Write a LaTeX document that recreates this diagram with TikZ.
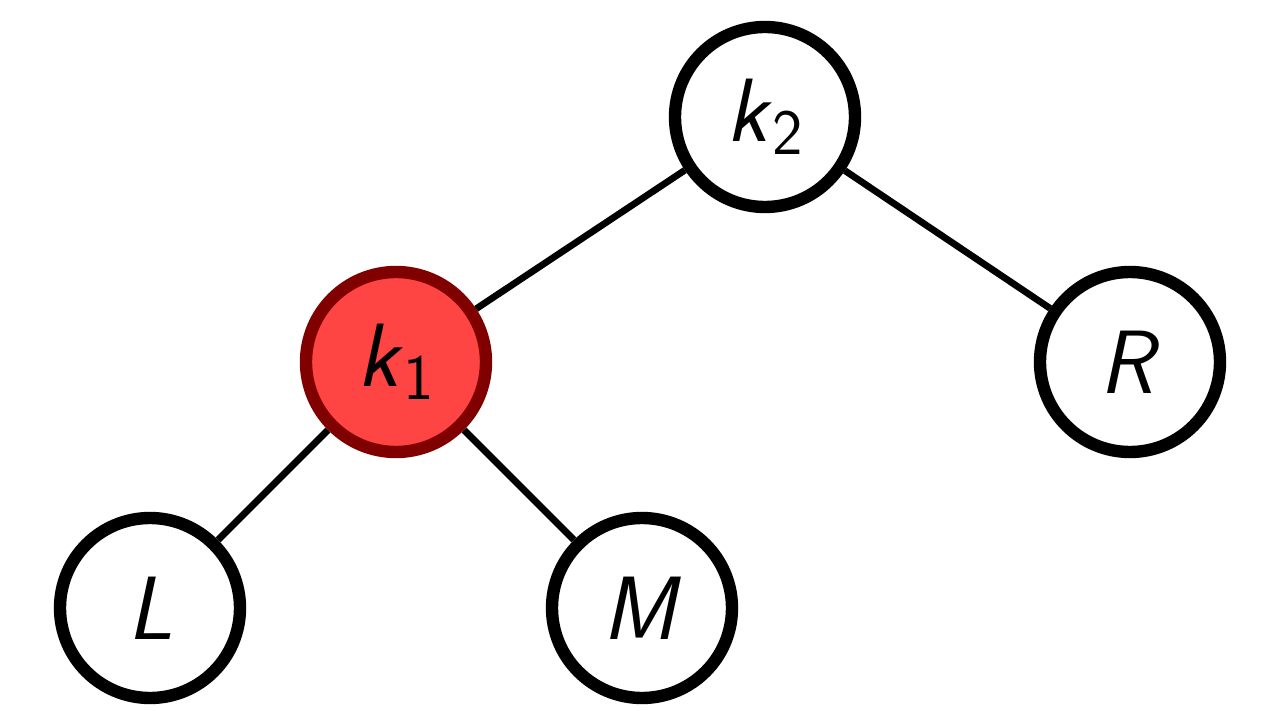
\documentclass[tikz,border=0pt]{standalone}
\usepackage{tikz}
\usetikzlibrary{positioning}
\definecolor{hotred}{HTML}{FF4444}
\definecolor{hotborder}{HTML}{800000}
\newcommand{\key}[2]{\textsf{\textit{#1}}\raisebox{-9pt}{\fontsize{46}{50}\selectfont\textsf{#2}}}
\newcommand{\sub}[1]{\textsf{\textit{#1}}}

\begin{document}
\begin{tikzpicture}[
  treenode/.style={
    draw=black, fill=white, circle, line width=8.8pt,
    minimum size=4.5cm, inner sep=0pt,
    font=\fontsize{64}{70}\selectfont
  },
  pivot/.style={treenode, fill=hotred, draw=hotborder},
  link/.style={line width=4.8pt, black}
]
\useasboundingbox (0,0) rectangle (32,18);

% nodes
\node[treenode] (k2) at (19.125, 15.075) {\key{k}{2}};
\node[pivot]    (k1) at (9.9, 8.95)      {\key{k}{1}};
\node[treenode] (r)  at (28.25, 8.95)    {\sub{R}};
\node[treenode] (l)  at (3.75, 2.8)      {\sub{L}};
\node[treenode] (m)  at (16.05, 2.8)     {\sub{M}};

% edges
\draw[link] (k2) -- (k1);
\draw[link] (k2) -- (r);
\draw[link] (k1) -- (l);
\draw[link] (k1) -- (m);

\end{tikzpicture}
\end{document}
